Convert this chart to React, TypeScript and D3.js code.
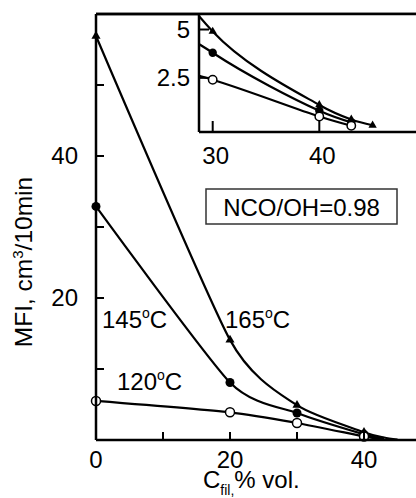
import React from "react";
import * as d3 from "d3";

// Filler content (% vol.) and melt flow index (cm3/10min) for each temperature
const fillerX165 = [0, 20, 30, 40, 43, 45];
const mfi165 = [56.9, 14.1, 4.9, 1.1, 0.35, 0.05];
const fillerX145 = [0, 20, 30, 40, 43];
const mfi145 = [32.9, 8.1, 3.8, 0.8, 0.2];
const fillerX120 = [0, 20, 30, 40, 43];
const mfi120 = [5.5, 3.9, 2.4, 0.5, 0.02];

const mainXTicks = [10, 20, 30, 40];
const mainXLabels = [0, 20, 40];
const mainYTicks = [10, 20, 30, 40, 50];
const mainYLabels = [20, 40];
const insetXTicks = [30, 40];
const insetYTicks = [2.5, 5];

// markers beyond this filler content sit on the main axis and are only shown in the inset
const MAIN_MARKER_MAX_X = 40;

type Pt = [number, number];
const zip = (xs: number[], ys: number[]): Pt[] => xs.map((x, i) => [x, ys[i]]);

const series = [
  { key: "165", pts: zip(fillerX165, mfi165), marker: "tri" },
  { key: "145", pts: zip(fillerX145, mfi145), marker: "dot" },
  { key: "120", pts: zip(fillerX120, mfi120), marker: "open" },
];

const FONT = "'Liberation Sans', Arial, Helvetica, sans-serif";

export default function App() {
  const W = 416;
  const H = 498;

  const x = d3.scaleLinear().domain([0, 50]).range([96, 431]);
  const y = d3.scaleLinear().domain([0, 60]).range([440, 14]);
  const xi = d3.scaleLinear().domain([30, 40]).range([212.7, 319.3]);
  const yi = d3.scaleLinear().domain([-0.3, 5.75]).range([132, 15]);

  const inset = { left: 199, top: 15, bottom: 132, right: 416 };
  const tri = d3.symbol().type(d3.symbolTriangle).size(36)()!;
  const triSmall = d3.symbol().type(d3.symbolTriangle).size(30)()!;

  const drawMarks = (
    sx: d3.ScaleLinear<number, number>,
    sy: d3.ScaleLinear<number, number>,
    small: boolean,
    maxMarkerX: number,
    curve: d3.CurveFactory
  ) =>
    series.map((s) => {
      const line = d3
        .line<Pt>()
        .x((d) => sx(d[0]))
        .y((d) => sy(d[1]))
        .curve(curve);
      return (
        <g key={s.key}>
          <path d={line(s.pts) || ""} fill="none" stroke="#000" strokeWidth={2.2} />
          {s.pts
            .filter((p) => p[0] <= maxMarkerX)
            .map((p, i) => {
              const cx = sx(p[0]);
              const cy = sy(p[1]);
              if (s.marker === "tri")
                return (
                  <path key={i} d={small ? triSmall : tri} transform={`translate(${cx},${cy})`} fill="#000" />
                );
              if (s.marker === "dot")
                return <circle key={i} cx={cx} cy={cy} r={small ? 4.2 : 4.5} fill="#000" />;
              return (
                <circle key={i} cx={cx} cy={cy} r={small ? 4.2 : 4.5} fill="#fff" stroke="#000" strokeWidth={1.5} />
              );
            })}
        </g>
      );
    });

  const degLabel = (t: string, px: number, py: number) => (
    <text x={px} y={py} fontSize={24} fontFamily={FONT}>
      {t}
      <tspan fontSize={14} dy={-10}>o</tspan>
      <tspan dy={10}>C</tspan>
    </text>
  );

  return (
    <svg
      width={W}
      height={H}
      style={{ position: "absolute", left: 0, top: 0, background: "#fff" }}
    >
      <defs>
        <clipPath id="mainClip">
          <rect x={x(0) - 8} y={0} width={W} height={y(0) + 4} />
        </clipPath>
        <clipPath id="insetClip">
          <rect x={inset.left} y={inset.top} width={inset.right - inset.left} height={inset.bottom - inset.top} />
        </clipPath>
      </defs>
      <rect width={W} height={H} fill="#fff" />

      {/* main plot data */}
      <g clipPath="url(#mainClip)">
        {drawMarks(x, y, false, MAIN_MARKER_MAX_X, d3.curveCardinal.tension(0.35))}
      </g>

      {/* main frame */}
      <g stroke="#000" strokeWidth={2.5} fill="none">
        <line x1={x(0)} x2={x(0)} y1={y(60)} y2={y(0)} />
        <line x1={x(0)} x2={W} y1={y(0)} y2={y(0)} />
        <line x1={x(0)} x2={W} y1={y(60)} y2={y(60)} />
      </g>
      <g stroke="#000" strokeWidth={2}>
        {mainYTicks.map((t) => (
          <line key={t} x1={x(0)} x2={x(0) + 8} y1={y(t)} y2={y(t)} />
        ))}
        {mainXTicks.map((t) => (
          <line key={t} x1={x(t)} x2={x(t)} y1={y(0)} y2={y(0) - 8} />
        ))}
      </g>
      <g fontFamily={FONT} fontSize={24}>
        {mainYLabels.map((t) => (
          <text key={t} x={78} y={y(t)} dy="0.35em" textAnchor="end">
            {t}
          </text>
        ))}
        {mainXLabels.map((t) => (
          <text key={t} x={x(t)} y={468} textAnchor="middle">
            {t}
          </text>
        ))}
      </g>

      {/* axis titles */}
      <text
        transform="translate(32,262) rotate(-90)"
        textAnchor="middle"
        fontFamily={FONT}
        fontSize={24.5}
      >
        MFI, cm<tspan fontSize={15} dy={-9}>3</tspan>
        <tspan dy={9}>/10min</tspan>
      </text>
      <text x={203} y={488} fontFamily={FONT} fontSize={24}>
        C<tspan fontSize={14} dy={7}>fil,</tspan>
        <tspan dy={-7}>% vol.</tspan>
      </text>

      {/* temperature labels */}
      {degLabel("145", 102, 328)}
      {degLabel("165", 225, 328)}
      {degLabel("120", 117, 390)}

      {/* inset */}
      <rect
        x={inset.left}
        y={inset.top}
        width={inset.right - inset.left}
        height={inset.bottom - inset.top}
        fill="#fff"
      />
      <g clipPath="url(#insetClip)">
        {drawMarks(xi, yi, true, Infinity, d3.curveCatmullRom.alpha(0.5))}
      </g>
      <g stroke="#000" strokeWidth={2.5}>
        <line x1={inset.left} x2={inset.left} y1={inset.top} y2={inset.bottom} />
        <line x1={inset.left} x2={inset.right} y1={inset.bottom} y2={inset.bottom} />
        <line x1={x(0)} x2={W} y1={y(60)} y2={y(60)} />
      </g>
      <g stroke="#000" strokeWidth={2}>
        {insetXTicks.map((t) => (
          <line key={t} x1={xi(t)} x2={xi(t)} y1={inset.bottom} y2={inset.bottom - 11} />
        ))}
        {insetYTicks.map((t) => (
          <line key={t} x1={inset.left} x2={inset.left + 10} y1={yi(t)} y2={yi(t)} />
        ))}
      </g>
      <g fontFamily={FONT} fontSize={24}>
        {insetYTicks.map((t) => (
          <text key={t} x={190} y={yi(t)} dy="0.35em" textAnchor="end">
            {t}
          </text>
        ))}
        {insetXTicks.map((t) => (
          <text key={t} x={xi(t) + 3} y={164} textAnchor="middle">
            {t}
          </text>
        ))}
      </g>

      {/* stoichiometry note */}
      <rect x={206} y={189} width={191} height={35} fill="#fff" stroke="#333" strokeWidth={1.5} />
      <text x={301.5} y={216} textAnchor="middle" fontFamily={FONT} fontSize={24}>
        NCO/OH=0.98
      </text>
    </svg>
  );
}
